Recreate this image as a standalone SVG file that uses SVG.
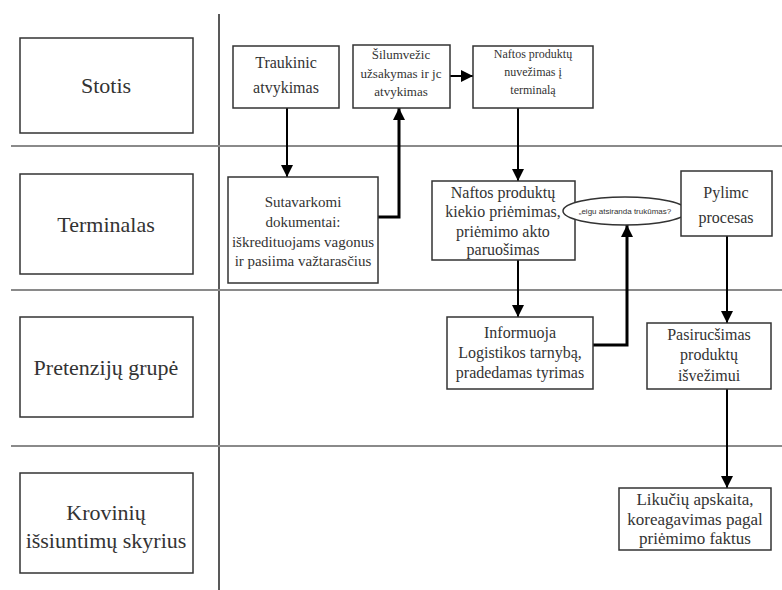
<svg xmlns="http://www.w3.org/2000/svg" width="782" height="590" viewBox="0 0 782 590">
<defs>
<style>
.lane{fill:#fff;stroke:#333;stroke-width:1.5}
.box{fill:#fff;stroke:#333;stroke-width:1.5}
.sep{stroke:#8a8a8a;stroke-width:2;fill:none}
.t{font-family:'Liberation Serif','Times New Roman','DejaVu Serif',serif;fill:#333;text-anchor:middle}
.s{font-family:'Liberation Sans',Arial,sans-serif;fill:#333;text-anchor:middle}
.c{fill:none;stroke:#000;stroke-width:2}
.ck{fill:none;stroke:#000;stroke-width:3}
</style>
<marker id="ah" markerUnits="userSpaceOnUse" markerWidth="12" markerHeight="14" viewBox="0 0 12 14" refX="12" refY="7" orient="auto">
<path d="M0,1 L12,7 L0,13 Z" fill="#000"/>
</marker>
</defs>
<rect x="0" y="0" width="782" height="590" fill="#fff"/>
<g id="grid">
<line x1="219" y1="14" x2="219" y2="590" stroke="#222" stroke-width="1.5"/>
<line class="sep" x1="11" y1="146" x2="782" y2="146"/>
<line class="sep" x1="11" y1="290" x2="782" y2="290"/>
<line class="sep" x1="11" y1="446" x2="782" y2="446"/>
</g>
<g id="lane-stotis"><rect class="lane" x="20" y="38" width="173" height="95"/><text class="t" x="106" y="93" font-size="22" font-family="Liberation Serif, serif">Stotis</text></g>
<g id="lane-terminalas"><rect class="lane" x="20" y="174" width="173" height="100"/><text class="t" x="106" y="232" font-size="22">Terminalas</text></g>
<g id="lane-pretenziju"><rect class="lane" x="20" y="317" width="173" height="100"/><text class="t" x="106" y="375" font-size="22">Pretenzijų grupė</text></g>
<g id="lane-kroviniu"><rect class="lane" x="20" y="473" width="173" height="100"/><text class="t" x="106" y="520" font-size="22">Krovinių</text><text class="t" x="106" y="548" font-size="22">išsiuntimų skyrius</text></g>
<g id="connectors">
<path class="c" d="M287 108 V177" marker-end="url(#ah)"/>
<path class="ck" d="M378 217 H399 V108" marker-end="url(#ah)"/>
<path class="c" d="M450 76 H473" marker-end="url(#ah)"/>
<path class="c" d="M518 108 V181" marker-end="url(#ah)"/>
<path class="c" d="M518 260 V317" marker-end="url(#ah)"/>
<path class="ck" d="M593 345 H627 V225" marker-end="url(#ah)"/>
<path class="c" d="M727 236 V323" marker-end="url(#ah)"/>
<path class="c" d="M727 389 V488" marker-end="url(#ah)"/>
</g>
<g id="n-traukinio"><rect class="box" x="233" y="46" width="106" height="62"/><text class="t" x="286" y="68" font-size="16">Traukinic</text><text class="t" x="286" y="93" font-size="16">atvykimas</text></g>
<g id="n-silumvezio"><rect class="box" x="353" y="45" width="97" height="63"/><text class="t" x="401" y="59" font-size="13">Šilumvežic</text><text class="t" x="401" y="78" font-size="13">užsakymas ir jc</text><text class="t" x="401" y="96" font-size="13">atvykimas</text></g>
<g id="n-nuvezimas"><rect class="box" x="473" y="46" width="120" height="62"/><text class="t" x="533" y="58" font-size="12">Naftos produktų</text><text class="t" x="533" y="76" font-size="12">nuvežimas į</text><text class="t" x="533" y="94" font-size="12">terminalą</text></g>
<g id="n-sutavarkomi"><rect class="box" x="228" y="177" width="150" height="106"/><text class="t" x="303" y="207" font-size="15">Sutavarkomi</text><text class="t" x="303" y="227" font-size="15">dokumentai:</text><text class="t" x="303" y="247" font-size="15">iškredituojams vagonus</text><text class="t" x="303" y="266" font-size="15">ir pasiima važtarasčius</text></g>
<g id="n-kiekio"><rect class="box" x="432" y="181" width="143" height="79"/><text class="t" x="503" y="198" font-size="16">Naftos produktų</text><text class="t" x="503" y="217" font-size="16">kiekio priėmimas,</text><text class="t" x="503" y="237" font-size="16">priėmimo akto</text><text class="t" x="503" y="255" font-size="16">paruošimas</text></g>
<g id="n-jeigu"><ellipse cx="625" cy="211" rx="62" ry="14" fill="#fff" stroke="#333" stroke-width="1.5"/><text class="s" x="625" y="214" font-size="8">„eigu atsiranda trukūmas?</text></g>
<g id="n-pylimo"><rect class="box" x="681" y="171" width="91" height="65"/><text class="t" x="726" y="198" font-size="16">Pylimc</text><text class="t" x="726" y="223" font-size="16">procesas</text></g>
<g id="n-informuoja"><rect class="box" x="447" y="317" width="146" height="72"/><text class="t" x="520" y="338" font-size="16">Informuoja</text><text class="t" x="520" y="358" font-size="16">Logistikos tarnybą,</text><text class="t" x="520" y="378" font-size="16">pradedamas tyrimas</text></g>
<g id="n-pasiruosimas"><rect class="box" x="647" y="323" width="124" height="66"/><text class="t" x="709" y="340" font-size="16">Pasirucšimas</text><text class="t" x="709" y="360" font-size="16">produktų</text><text class="t" x="709" y="381" font-size="16">išvežimui</text></g>
<g id="n-likuciu"><rect class="box" x="619" y="488" width="152" height="62"/><text class="t" x="695" y="505" font-size="17">Likučių apskaita,</text><text class="t" x="695" y="525" font-size="17">koreagavimas pagal</text><text class="t" x="695" y="544" font-size="17">priėmimo faktus</text></g>
</svg>
